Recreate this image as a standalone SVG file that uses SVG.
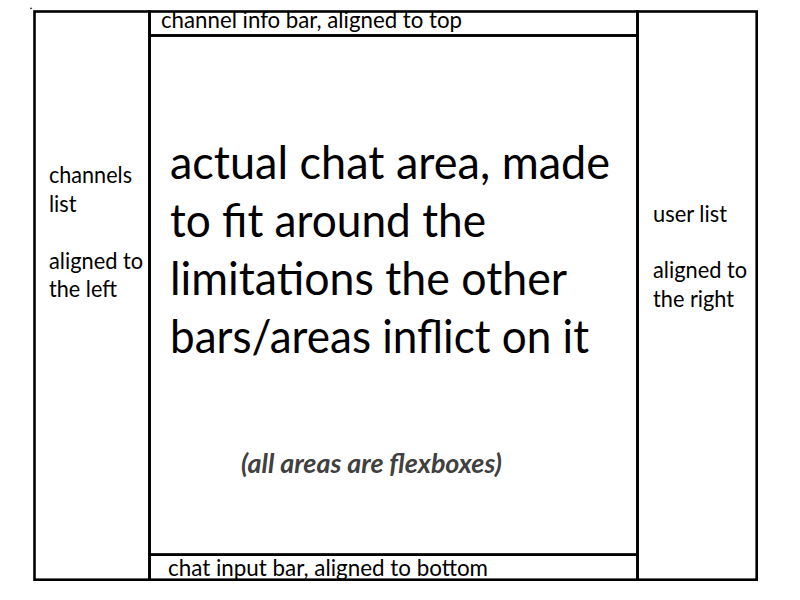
<svg xmlns="http://www.w3.org/2000/svg" width="800" height="600" viewBox="0 0 800 600">
<style>
.box{fill:none;stroke:#000;stroke-width:2.6}
.t{font-family:Lato,"Liberation Sans",sans-serif;fill:#000}
.s{font-size:23px}
.m{font-size:47px}
.n{font-size:26px;font-weight:bold;font-style:italic;fill:#404040}
</style>
<rect width="800" height="600" fill="#fff"/>
<rect x="30.3" y="7.7" width="1.4" height="1.4" fill="#000"/>
<g id="channels-list">
<rect class="box" x="34.5" y="11.5" width="115" height="568.2"/>
<text class="t s" x="49" y="183" textLength="83" lengthAdjust="spacingAndGlyphs">channels</text>
<text class="t s" x="49" y="211.5" textLength="27.5" lengthAdjust="spacingAndGlyphs">list</text>
<text class="t s" x="49" y="268.5" textLength="94" lengthAdjust="spacingAndGlyphs">aligned to</text>
<text class="t s" x="49" y="297" textLength="68" lengthAdjust="spacingAndGlyphs">the left</text>
</g>
<g id="channel-info-bar">
<rect class="box" x="149.5" y="11.5" width="488" height="24"/>
<text class="t s" x="161" y="28" textLength="301" lengthAdjust="spacingAndGlyphs">channel info bar, aligned to top</text>
</g>
<g id="chat-area">
<rect class="box" x="149.5" y="35.5" width="488" height="519.2"/>
<text class="t m" x="170" y="178.5" textLength="440" lengthAdjust="spacingAndGlyphs">actual chat area, made</text>
<text class="t m" x="170" y="236.5" textLength="316" lengthAdjust="spacingAndGlyphs">to fit around the</text>
<text class="t m" x="170" y="294.5" textLength="397" lengthAdjust="spacingAndGlyphs">limitations the other</text>
<text class="t m" x="170" y="352.5" textLength="419" lengthAdjust="spacingAndGlyphs">bars/areas inflict on it</text>
<text class="t n" x="241" y="473" textLength="261" lengthAdjust="spacingAndGlyphs">(all areas are flexboxes)</text>
</g>
<g id="chat-input-bar">
<rect class="box" x="149.5" y="554.7" width="488" height="25"/>
<text class="t s" x="168" y="575.5" textLength="320" lengthAdjust="spacingAndGlyphs">chat input bar, aligned to bottom</text>
</g>
<g id="user-list">
<rect class="box" x="637.5" y="11.5" width="119.2" height="568.2"/>
<text class="t s" x="653" y="221.5" textLength="74" lengthAdjust="spacingAndGlyphs">user list</text>
<text class="t s" x="653" y="278" textLength="94" lengthAdjust="spacingAndGlyphs">aligned to</text>
<text class="t s" x="653" y="306.5" textLength="81" lengthAdjust="spacingAndGlyphs">the right</text>
</g>
</svg>
